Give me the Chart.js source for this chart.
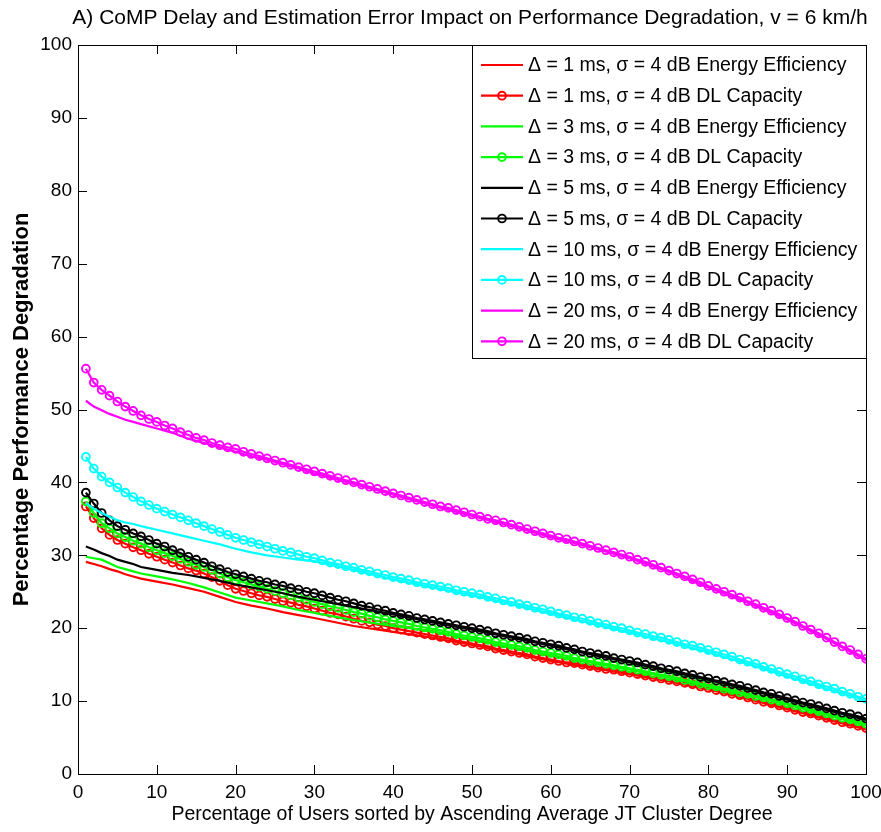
<!DOCTYPE html>
<html>
<head>
<meta charset="utf-8">
<script src="https://cdn.jsdelivr.net/npm/chart.js@4"></script>
<style>
  html, body { margin: 0; padding: 0; background: #ffffff; }
  #wrap { width: 881px; height: 832px; }
</style>
</head>
<body>
<div id="wrap"><canvas id="chart" width="881" height="832"></canvas></div>
<script>
  // x positions of the DL capacity points (percentage of users)
  var userPct = [];
  for (var k = 1; k <= 100; k++) userPct.push(k);

  // x positions used for the energy efficiency curves
  var eeX = [1, 2, 3, 4, 5, 6, 7, 8, 10, 12, 14, 16, 18, 20, 22, 24, 26, 28, 30,
             35, 40, 45, 50, 55, 60, 65, 70, 75, 80, 85, 90, 95, 100];

  // Energy efficiency degradation (%)
  var ee1 = [29.1, 28.8, 28.5, 28.1, 27.8, 27.4, 27.1, 26.8, 26.4, 26.0, 25.5, 25.0, 24.3, 23.6, 23.1, 22.7, 22.2, 21.8, 21.4,
             20.3, 19.5, 18.7, 17.7, 16.6, 15.5, 14.6, 13.7, 12.7, 11.6, 10.3, 8.9, 7.5, 6.1];
  var ee3 = [29.8, 29.6, 29.4, 28.9, 28.4, 28.1, 27.8, 27.5, 27.1, 26.7, 26.2, 25.6, 24.9, 24.2, 23.8, 23.4, 23.0, 22.5, 22.1,
             21.1, 20.3, 19.6, 18.5, 17.4, 16.3, 15.3, 14.3, 13.2, 12.0, 10.8, 9.5, 8.1, 6.7];
  var ee5 = [31.2, 30.8, 30.3, 29.9, 29.4, 29.1, 28.8, 28.4, 28.0, 27.6, 27.3, 26.9, 26.5, 26.0, 25.6, 25.2, 24.8, 24.3, 23.9,
             22.9, 21.9, 20.8, 19.8, 18.7, 17.6, 16.4, 15.3, 14.1, 12.9, 11.6, 10.2, 8.8, 7.4];
  var ee10 = [37.2, 36.4, 35.8, 35.3, 34.8, 34.5, 34.3, 34.0, 33.5, 33.0, 32.5, 32.0, 31.5, 30.9, 30.4, 30.0, 29.7, 29.4, 29.2,
              28.0, 26.7, 25.6, 24.5, 23.3, 22.0, 20.7, 19.4, 18.1, 16.7, 15.1, 13.4, 11.7, 10.1];
  var ee20 = [51.2, 50.4, 49.9, 49.4, 49.0, 48.6, 48.3, 48.0, 47.4, 46.8, 46.0, 45.4, 44.8, 44.2, 43.6, 43.1, 42.5, 41.9, 41.2,
              39.8, 38.3, 36.8, 35.4, 34.0, 32.5, 31.1, 29.6, 27.7, 25.6, 23.5, 21.2, 18.5, 15.6];

  // DL capacity degradation (%), one value per user percentile 1..100
  var dl1 = [36.7, 35.1, 33.7, 32.8, 32.1, 31.6, 31.1, 30.7, 30.2, 29.8,
             29.4, 29.0, 28.6, 28.2, 27.9, 27.5, 27.0, 26.5, 25.9, 25.4,
             25.1, 24.8, 24.5, 24.3, 24.0, 23.7, 23.5, 23.2, 23.0, 22.7,
             22.4, 22.1, 21.9, 21.6, 21.3, 21.0, 20.8, 20.5, 20.3, 20.0,
             19.8, 19.6, 19.4, 19.2, 19.0, 18.8, 18.6, 18.3, 18.1, 17.9,
             17.7, 17.5, 17.2, 17.0, 16.8, 16.6, 16.4, 16.1, 15.9, 15.7,
             15.5, 15.3, 15.2, 15.0, 14.8, 14.6, 14.4, 14.3, 14.1, 13.9,
             13.7, 13.5, 13.3, 13.1, 12.9, 12.7, 12.5, 12.3, 12.0, 11.8,
             11.5, 11.3, 11.0, 10.8, 10.5, 10.2, 9.9, 9.7, 9.4, 9.1,
             8.8, 8.5, 8.3, 8.0, 7.7, 7.4, 7.1, 6.9, 6.6, 6.3];
  var dl3 = [37.4, 35.8, 34.4, 33.7, 33.0, 32.5, 32.0, 31.6, 31.1, 30.7,
             30.3, 29.9, 29.5, 29.1, 28.7, 28.4, 28.0, 27.5, 27.0, 26.6,
             26.3, 26.0, 25.7, 25.4, 25.1, 24.8, 24.5, 24.2, 23.9, 23.6,
             23.3, 23.0, 22.8, 22.5, 22.2, 22.0, 21.7, 21.5, 21.2, 21.0,
             20.8, 20.6, 20.3, 20.1, 19.9, 19.7, 19.5, 19.2, 19.0, 18.8,
             18.6, 18.4, 18.1, 17.9, 17.7, 17.5, 17.3, 17.0, 16.8, 16.6,
             16.4, 16.2, 15.9, 15.7, 15.5, 15.3, 15.1, 14.9, 14.7, 14.5,
             14.3, 14.1, 13.8, 13.6, 13.4, 13.2, 12.9, 12.7, 12.4, 12.2,
             12.0, 11.7, 11.5, 11.2, 11.0, 10.7, 10.5, 10.2, 10.0, 9.7,
             9.4, 9.1, 8.9, 8.6, 8.3, 8.0, 7.7, 7.5, 7.2, 6.9];
  var dl5 = [38.6, 37.1, 35.8, 34.8, 34.0, 33.5, 33.0, 32.6, 32.1, 31.6,
             31.2, 30.7, 30.3, 29.8, 29.4, 29.0, 28.5, 28.1, 27.7, 27.4,
             27.1, 26.8, 26.5, 26.3, 26.0, 25.8, 25.5, 25.3, 25.0, 24.8,
             24.5, 24.2, 23.9, 23.7, 23.4, 23.1, 22.9, 22.6, 22.4, 22.1,
             21.9, 21.7, 21.4, 21.2, 21.0, 20.8, 20.6, 20.4, 20.2, 20.0,
             19.8, 19.6, 19.3, 19.1, 18.9, 18.7, 18.5, 18.2, 18.0, 17.8,
             17.6, 17.3, 17.1, 16.8, 16.6, 16.4, 16.2, 15.9, 15.7, 15.5,
             15.3, 15.0, 14.8, 14.5, 14.3, 14.1, 13.8, 13.6, 13.3, 13.1,
             12.8, 12.6, 12.3, 12.1, 11.8, 11.5, 11.2, 11.0, 10.7, 10.4,
             10.1, 9.8, 9.6, 9.3, 9.0, 8.7, 8.4, 8.2, 7.9, 7.6];
  var dl10 = [43.5, 41.9, 40.8, 40.0, 39.3, 38.6, 38.0, 37.4, 36.9, 36.4,
              36.0, 35.6, 35.2, 34.8, 34.4, 34.0, 33.6, 33.2, 32.8, 32.4,
              32.1, 31.8, 31.5, 31.2, 30.9, 30.6, 30.4, 30.1, 29.8, 29.6,
              29.3, 29.0, 28.8, 28.5, 28.3, 28.0, 27.8, 27.5, 27.3, 27.0,
              26.8, 26.6, 26.3, 26.1, 25.9, 25.7, 25.5, 25.2, 25.0, 24.8,
              24.6, 24.3, 24.1, 23.8, 23.6, 23.3, 23.1, 22.8, 22.6, 22.3,
              22.0, 21.8, 21.5, 21.3, 21.0, 20.7, 20.5, 20.2, 20.0, 19.7,
              19.4, 19.2, 18.9, 18.7, 18.4, 18.1, 17.8, 17.6, 17.3, 17.0,
              16.7, 16.4, 16.1, 15.7, 15.4, 15.1, 14.7, 14.4, 14.0, 13.7,
              13.4, 13.0, 12.7, 12.3, 12.0, 11.7, 11.3, 11.0, 10.6, 10.3];
  var dl20 = [55.6, 53.7, 52.7, 51.9, 51.1, 50.4, 49.8, 49.2, 48.7, 48.3,
              47.8, 47.4, 46.9, 46.5, 46.1, 45.8, 45.4, 45.1, 44.8, 44.6,
              44.2, 43.9, 43.6, 43.3, 43.0, 42.7, 42.4, 42.1, 41.8, 41.5,
              41.2, 40.9, 40.6, 40.3, 40.0, 39.7, 39.4, 39.1, 38.8, 38.5,
              38.2, 37.9, 37.6, 37.3, 37.0, 36.7, 36.5, 36.2, 35.9, 35.6,
              35.3, 35.0, 34.8, 34.5, 34.2, 33.9, 33.6, 33.3, 33.0, 32.7,
              32.4, 32.2, 31.9, 31.6, 31.3, 31.0, 30.7, 30.4, 30.1, 29.8,
              29.4, 29.1, 28.7, 28.3, 27.9, 27.5, 27.1, 26.7, 26.3, 25.8,
              25.4, 25.0, 24.6, 24.2, 23.7, 23.3, 22.8, 22.4, 21.9, 21.4,
              20.9, 20.3, 19.8, 19.3, 18.7, 18.1, 17.5, 17.0, 16.4, 15.8];

  var delays = ['1', '3', '5', '10', '20'];
  var seriesColors = ['#ff0000', '#00ff00', '#000000', '#00ffff', '#ff00ff'];
  var eeSeries = [ee1, ee3, ee5, ee10, ee20];
  var dlSeries = [dl1, dl3, dl5, dl10, dl20];

  var xTicks = [0, 10, 20, 30, 40, 50, 60, 70, 80, 90, 100];
  var yTicks = [0, 10, 20, 30, 40, 50, 60, 70, 80, 90, 100];

  var FONT = "'Liberation Sans', Arial, Helvetica, sans-serif";

  function pairs(xs, ys) {
    return ys.map(function (y, i) { return { x: xs[i], y: y }; });
  }

  var datasets = [];
  delays.forEach(function (d, i) {
    datasets.push({
      label: '\u0394 = ' + d + ' ms, \u03c3 = 4 dB Energy Efficiency',
      data: pairs(eeX, eeSeries[i]),
      borderColor: seriesColors[i],
      borderWidth: 2.2,
      pointRadius: 0,
      fill: false,
      tension: 0,
      showMarker: false
    });
    datasets.push({
      label: '\u0394 = ' + d + ' ms, \u03c3 = 4 dB DL Capacity',
      data: pairs(userPct, dlSeries[i]),
      borderColor: seriesColors[i],
      backgroundColor: 'rgba(0,0,0,0)',
      borderWidth: 2.2,
      pointRadius: 3.9,
      pointBorderWidth: 1.9,
      pointBackgroundColor: 'rgba(0,0,0,0)',
      pointBorderColor: seriesColors[i],
      fill: false,
      tension: 0,
      showMarker: true
    });
  });
  datasets.forEach(function (ds, i) { ds.order = datasets.length - i; });

  // box, inward ticks, titles and MATLAB-style legend
  var matlabFrame = {
    id: 'matlabFrame',
    afterDatasetsDraw: function (chart) {
      var ctx = chart.ctx, a = chart.chartArea;
      var xs = chart.scales.x, ys = chart.scales.y;
      ctx.save();
      ctx.strokeStyle = '#000';
      ctx.lineWidth = 1;
      ctx.strokeRect(Math.round(a.left) + 0.5, Math.round(a.top) + 0.5,
                     Math.round(a.right - a.left), Math.round(a.bottom - a.top));
      var tl = 9;
      ctx.beginPath();
      xTicks.forEach(function (v) {
        var px = Math.round(xs.getPixelForValue(v)) + 0.5;
        ctx.moveTo(px, a.bottom); ctx.lineTo(px, a.bottom - tl);
        ctx.moveTo(px, a.top); ctx.lineTo(px, a.top + tl);
      });
      yTicks.forEach(function (v) {
        var py = Math.round(ys.getPixelForValue(v)) + 0.5;
        ctx.moveTo(a.left, py); ctx.lineTo(a.left + tl, py);
        ctx.moveTo(a.right, py); ctx.lineTo(a.right - tl, py);
      });
      ctx.stroke();

      // legend
      var lx = 472, ly = 45, lw = Math.round(a.right) - 472, lh = 313;
      ctx.fillStyle = '#fff';
      ctx.fillRect(lx, ly, lw, lh);
      ctx.strokeRect(lx + 0.5, ly + 0.5, lw, lh);
      ctx.font = '19.5px ' + FONT;
      ctx.textBaseline = 'middle';
      ctx.textAlign = 'left';
      chart.data.datasets.forEach(function (ds, i) {
        var cy = 65 + i * 30.7;
        ctx.strokeStyle = ds.borderColor;
        ctx.lineWidth = 2.2;
        ctx.beginPath();
        ctx.moveTo(481, cy); ctx.lineTo(523, cy);
        ctx.stroke();
        if (ds.showMarker) {
          ctx.lineWidth = 1.9;
          ctx.beginPath();
          ctx.arc(502, cy, 3.9, 0, Math.PI * 2);
          ctx.stroke();
        }
        ctx.fillStyle = '#000';
        ctx.fillText(ds.label, 528, cy + 1);
      });

      // titles
      ctx.fillStyle = '#000';
      ctx.textAlign = 'center';
      ctx.font = '21px ' + FONT;
      ctx.fillText('A) CoMP Delay and Estimation Error Impact on Performance Degradation, v = 6 km/h',
                   470, 18);
      ctx.font = '19.5px ' + FONT;
      ctx.fillText('Percentage of Users sorted by Ascending Average JT Cluster Degree',
                   (a.left + a.right) / 2, 815);
      ctx.translate(22, (a.top + a.bottom) / 2);
      ctx.rotate(-Math.PI / 2);
      ctx.font = 'bold 22px ' + FONT;
      ctx.fillText('Percentage Performance Degradation', 0, 0);
      ctx.restore();
    }
  };

  new Chart(document.getElementById('chart').getContext('2d'), {
    type: 'line',
    data: { datasets: datasets },
    options: {
      responsive: false,
      animation: false,
      layout: { padding: { top: 45, right: 15, left: 0, bottom: 0 } },
      plugins: {
        legend: { display: false },
        title: { display: false },
        tooltip: { enabled: false }
      },
      scales: {
        x: {
          type: 'linear',
          min: 0, max: 100,
          grid: { display: false, drawTicks: false },
          border: { display: false },
          afterBuildTicks: function (s) { s.ticks = xTicks.map(function (v) { return { value: v }; }); },
          afterFit: function (s) { s.height = 58; s.paddingLeft = 0; s.paddingRight = 0; },
          ticks: { color: '#000', padding: 7, maxRotation: 0, font: { size: 19, family: FONT } }
        },
        y: {
          type: 'linear',
          min: 0, max: 100,
          grid: { display: false, drawTicks: false },
          border: { display: false },
          afterBuildTicks: function (s) { s.ticks = yTicks.map(function (v) { return { value: v }; }); },
          afterFit: function (s) { s.width = 78; s.paddingTop = 0; s.paddingBottom = 0; },
          ticks: { color: '#000', padding: 6, font: { size: 19, family: FONT } }
        }
      }
    },
    plugins: [matlabFrame]
  });
</script>
</body>
</html>
